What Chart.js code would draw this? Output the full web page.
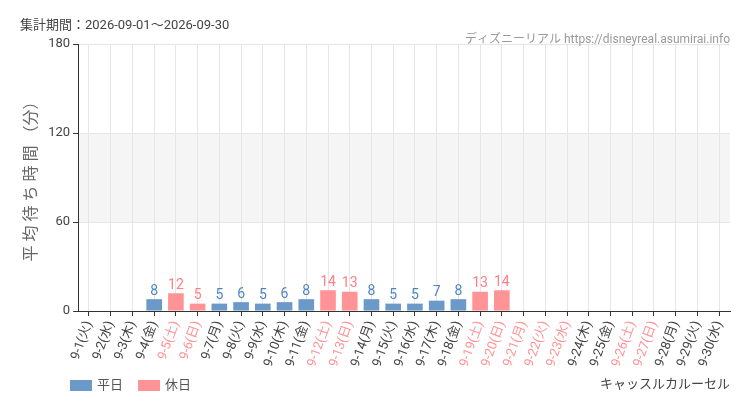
<!DOCTYPE html>
<html><head><meta charset="utf-8">
<script src="https://cdn.jsdelivr.net/npm/chart.js@4"></script>
<style>body{margin:0;background:#fff}#box{width:750px;height:410px}</style>
</head><body><div id="box"><canvas id="c"></canvas></div>
<script>
const days = ['9-1(火)','9-2(水)','9-3(木)','9-4(金)','9-5(土)','9-6(日)','9-7(月)','9-8(火)','9-9(水)','9-10(木)','9-11(金)','9-12(土)','9-13(日)','9-14(月)','9-15(火)','9-16(水)','9-17(木)','9-18(金)','9-19(土)','9-20(日)','9-21(月)','9-22(火)','9-23(水)','9-24(木)','9-25(金)','9-26(土)','9-27(日)','9-28(月)','9-29(火)','9-30(水)'];
const holidays = ['9-5','9-6','9-12','9-13','9-19','9-20','9-21','9-22','9-23','9-26','9-27'];
const waits = [null,null,null,8,12,5,5,6,5,6,8,14,13,8,5,5,7,8,13,14,null,null,null,null,null,null,null,null,null,null];
const yTicks = [0,60,120,180];

const blue = '#6b9ac8', pink = '#ff9396', font = "'Roboto','Noto Sans CJK JP',sans-serif";
const isHol = i => holidays.includes(days[i].split('(')[0]);
const weekday = waits.map((v,i) => isHol(i) ? null : v);
const holiday = waits.map((v,i) => isHol(i) ? v : null);

const extras = {
  id: 'extras',
  beforeDraw(chart) {
    const {ctx, chartArea: a, scales: {y}} = chart;
    ctx.save();
    ctx.fillStyle = '#f5f5f5';
    ctx.fillRect(a.left, y.getPixelForValue(120), a.right - a.left, y.getPixelForValue(60) - y.getPixelForValue(120));
    ctx.restore();
  },
  afterDraw(chart) {
    const {ctx} = chart;
    ctx.save();
    ctx.font = '13px ' + font; ctx.fillStyle = '#444'; ctx.textBaseline = 'middle';
    ctx.fillText('集計期間：2026-09-01～2026-09-30', 20, 26);
    // legend
    ctx.fillStyle = blue; ctx.fillRect(70, 380, 22, 11);
    ctx.fillStyle = pink; ctx.fillRect(138, 380, 22, 11);
    ctx.fillStyle = '#555';
    ctx.fillText('平日', 97, 386); ctx.fillText('休日', 165, 386);
    ctx.textAlign = 'right'; ctx.fillStyle = '#999'; ctx.font = '12px ' + font;
    ctx.fillText('ディズニーリアル https://disneyreal.asumirai.info', 730, 40);
    ctx.fillStyle = '#444'; ctx.font = '13px ' + font;
    ctx.fillText('キャッスルカルーセル', 730, 385);
    ctx.textAlign = 'center'; ctx.textBaseline = 'bottom'; ctx.font = '14px ' + font;
    chart.data.datasets.forEach((ds, di) => {
      chart.getDatasetMeta(di).data.forEach((bar, i) => {
        if (ds.data[i] == null) return;
        ctx.fillStyle = di ? '#ff7f84' : '#4d86bf';
        ctx.fillText(ds.data[i], bar.x, bar.y - 1);
      });
    });
    ctx.restore();
  }
};

new Chart(document.getElementById('c'), {
  type: 'bar',
  data: {labels: days, datasets: [
    {label: '平日', data: weekday, backgroundColor: blue},
    {label: '休日', data: holiday, backgroundColor: pink}
  ]},
  options: {
    responsive: true, maintainAspectRatio: false, animation: false,
    layout: {padding: {top: 44, right: 20, left: 18, bottom: 38}},
    plugins: {tooltip: {enabled: false}, legend: {display: false}},
    scales: {
      x: {stacked: true, barPercentage: 0.7, categoryPercentage: 1,
        grid: {color: '#e6e6e6', offset: false, tickColor: '#333', tickLength: 5},
        border: {color: '#333'},
        ticks: {maxRotation: 70, minRotation: 70, autoSkip: false, font: {size: 13, family: font},
          color: ctx => isHol(ctx.index) ? pink : '#444'}},
      y: {stacked: true, min: 0, max: 180, afterBuildTicks: ax => { ax.ticks = yTicks.map(v => ({value: v})); },
        grid: {color: '#e6e6e6', tickColor: '#333', tickLength: 5}, border: {color: '#333'},
        ticks: {font: {size: 13, family: font}, color: '#444'},
        title: {display: true, text: '平 均 待 ち 時 間 （分）', font: {size: 16, family: font}, color: '#666'}}
    }
  },
  plugins: [extras]
});
</script></body></html>
